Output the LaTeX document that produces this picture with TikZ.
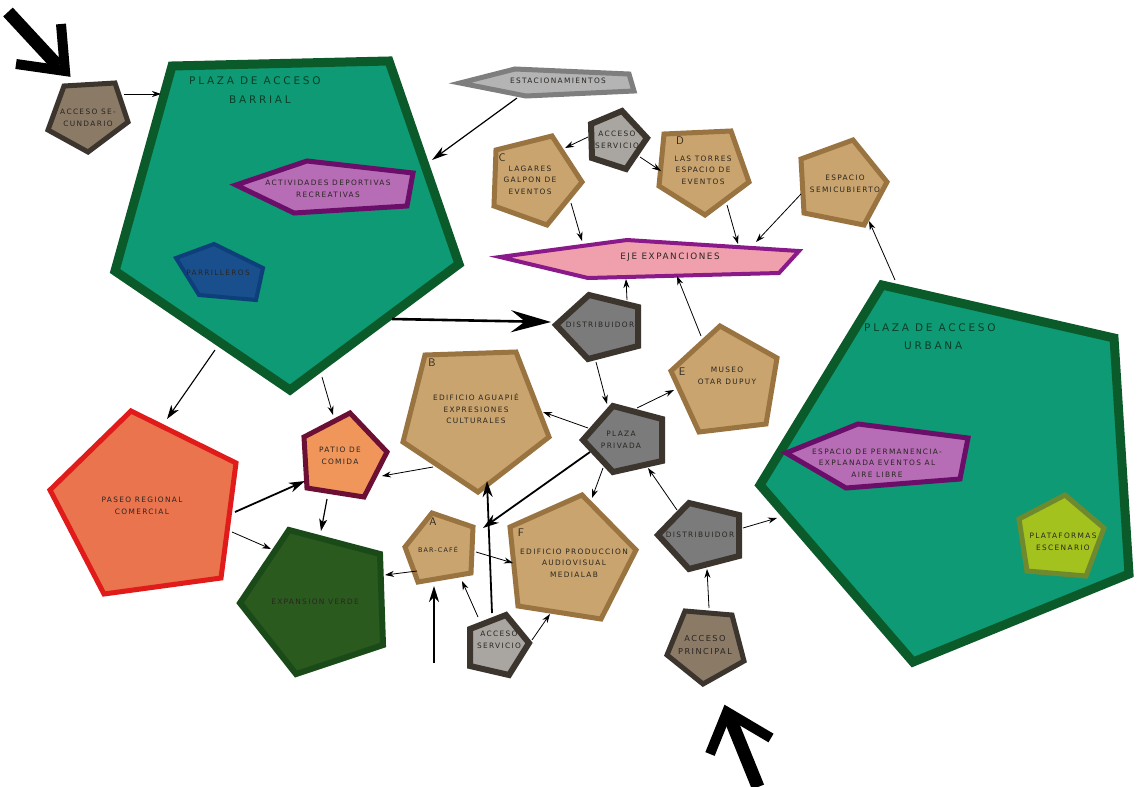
\documentclass[tikz,border=0pt]{standalone}
\usepackage{fontspec}
\usetikzlibrary{arrows.meta}
\newfontfamily\labfont{DejaVu Sans}[LetterSpace=18]
\newfontfamily\titfont{DejaVu Sans}[LetterSpace=26]
\definecolor{plazaf}{HTML}{0E9A74}
\definecolor{plazab}{HTML}{0B5A2A}
\definecolor{tanf}{HTML}{C9A46E}
\definecolor{tanb}{HTML}{9A7440}
\definecolor{grayf}{HTML}{7B7B7B}
\definecolor{darkb}{HTML}{3B352E}
\definecolor{lgrayf}{HTML}{A9A5A1}
\definecolor{accf}{HTML}{8B7A66}
\definecolor{pinkf}{HTML}{F0A0AC}
\definecolor{purpb}{HTML}{8A1A8A}
\definecolor{purpf}{HTML}{B66DB6}
\definecolor{purpbb}{HTML}{6A0E6A}
\definecolor{bluef}{HTML}{1A4F8E}
\definecolor{blueb}{HTML}{0D3F7A}
\definecolor{paseof}{HTML}{EA744E}
\definecolor{paseob}{HTML}{E11A1A}
\definecolor{patiof}{HTML}{F0965A}
\definecolor{patiob}{HTML}{6B0F35}
\definecolor{verdef}{HTML}{2A5A1E}
\definecolor{verdeb}{HTML}{1A4A18}
\definecolor{platf}{HTML}{A4C21E}
\definecolor{platb}{HTML}{6F8A2E}
\definecolor{estf}{HTML}{B4B4B4}
\definecolor{estb}{HTML}{7E7E7E}
\definecolor{txt}{HTML}{2A2622}
\definecolor{tittxt}{HTML}{0A3F28}
\tikzset{
  poly/.style={line join=miter},
  plaza/.style={poly,fill=plazaf,draw=plazab,line width=9pt},
  tan/.style={poly,fill=tanf,draw=tanb,line width=5pt},
  dist/.style={poly,fill=grayf,draw=darkb,line width=6pt},
  serv/.style={poly,fill=lgrayf,draw=darkb,line width=6pt},
  acc/.style={poly,fill=accf,draw=darkb,line width=5pt},
  lab/.style={font=\labfont\fontsize{7.4}{11.5}\selectfont,text=txt,align=center,inner sep=0pt},
  letter/.style={font=\fontsize{11}{11}\selectfont\sffamily,text=txt,inner sep=0pt},
  tit/.style={font=\titfont\fontsize{10.5}{15}\selectfont,text=tittxt,align=left,inner sep=0pt},
  thinarr/.style={line width=0.8pt,-{Stealth[length=9pt,width=6pt]}},
  medarr/.style={line width=1.8pt,-{Stealth[length=16pt,width=10pt,inset=5pt]}},
  bigarr/.style={line width=2.6pt,-{Stealth[length=40pt,width=22pt,inset=14pt]}},
  fatline/.style={line width=13pt,line cap=butt},
  headline/.style={line width=10pt,line join=miter},
}
\begin{document}
\begin{tikzpicture}[x=1pt,y=-1pt]
\path[use as bounding box,fill=white] (0,0) rectangle (1138,787);

% ---------- big arrows (entrances)
\draw[fatline] (8,12) -- (58,66);
\draw[headline] (61,24) -- (65,71) -- (16,64);
\draw[fatline] (758,787) -- (730,718);
\draw[headline] (710,754) -- (727,712) -- (771,738);

% ---------- plaza de acceso barrial
\draw[plaza] (172,66) -- (389,61) -- (459,264) -- (290,390) -- (115,271) -- cycle;
\node[tit,anchor=west] (tb1) at (189,81) {PLAZA DE ACCESO};
\node[tit,anchor=west] (tb2) at (229,100) {BARRIAL};
\draw[poly,fill=purpf,draw=purpbb,line width=5pt] (236,185) -- (307,161) -- (413,173) -- (407,206) -- (294,213) -- cycle;
\node[lab] (act) at (328,189) {ACTIVIDADES DEPORTIVAS\\RECREATIVAS};
\draw[poly,fill=bluef,draw=blueb,line width=4pt] (176,258) -- (214,244) -- (263,268) -- (256,300) -- (199,295) -- cycle;
\node[lab] (parr) at (218,273) {PARRILLEROS};

% ---------- acceso secundario
\draw[acc] (64,86) -- (115,83) -- (128,122) -- (88,152) -- (48,130) -- cycle;
\node[lab] (asec) at (88,118) {ACCESO SE-\\CUNDARIO};

% ---------- estacionamientos
\draw[poly,fill=estf,draw=estb,line width=5pt] (460,83) -- (515,69) -- (629,74) -- (634,91) -- (526,96) -- cycle;
\node[lab] (est) at (558,81) {ESTACIONAMIENTOS};

% ---------- acceso servicio (top)
\draw[serv] (591,124) -- (622,111) -- (647,138) -- (626,169) -- (592,158) -- cycle;
\node[lab] (as1) at (617,140) {ACCESO\\SERVICIO};

% ---------- C
\draw[tan] (496,150) -- (552,136) -- (582,182) -- (547,225) -- (494,206) -- cycle;
\node[letter] (lC) at (502,158) {C};
\node[lab] (tC) at (530,180) {LAGARES\\GALPON DE\\EVENTOS};

% ---------- D
\draw[tan] (664,134) -- (731,131) -- (749,182) -- (705,215) -- (659,186) -- cycle;
\node[letter] (lD) at (680,141) {D};
\node[lab] (tD) at (703,170) {LAS TORRES\\ESPACIO DE\\EVENTOS};

% ---------- espacio semicubierto
\draw[tan] (801,159) -- (853,140) -- (887,182) -- (864,225) -- (804,213) -- cycle;
\node[lab] (tsemi) at (845,184) {ESPACIO\\SEMICUBIERTO};

% ---------- eje expanciones
\draw[poly,fill=pinkf,draw=purpb,line width=4pt] (500,257) -- (627,240) -- (799,251) -- (779,273) -- (588,278) -- cycle;
\node[lab,font=\labfont\fontsize{8.8}{11}\selectfont] (eje) at (670,257) {EJE EXPANCIONES};

% ---------- distribuidor (upper)
\draw[dist] (556,325) -- (589,295) -- (638,307) -- (638,346) -- (588,359) -- cycle;
\node[lab] (dist1) at (600,325) {DISTRIBUIDOR};

% ---------- museo E
\draw[tan] (671,371) -- (720,326) -- (777,358) -- (766,424) -- (699,432) -- cycle;
\node[letter] (lE) at (682,372) {E};
\node[lab] (tE) at (727,376) {MUSEO\\OTAR DUPUY};

% ---------- B
\draw[tan] (425,355) -- (516,352) -- (549,437) -- (478,492) -- (403,442) -- cycle;
\node[letter] (lB) at (432,363) {B};
\node[lab] (tB) at (476,409) {EDIFICIO AGUAPIÉ\\EXPRESIONES\\CULTURALES};

% ---------- plaza privada
\draw[dist] (583,440) -- (613,406) -- (662,419) -- (662,461) -- (613,472) -- cycle;
\node[lab] (pp) at (621,440) {PLAZA\\PRIVADA};

% ---------- paseo regional comercial
\draw[poly,fill=paseof,draw=paseob,line width=5pt] (131,411) -- (236,463) -- (221,578) -- (104,594) -- (50,490) -- cycle;
\node[lab] (paseo) at (142,506) {PASEO REGIONAL\\COMERCIAL};

% ---------- patio de comida
\draw[poly,fill=patiof,draw=patiob,line width=5pt] (304,437) -- (350,413) -- (387,452) -- (364,497) -- (307,488) -- cycle;
\node[lab] (patio) at (340,456) {PATIO DE\\COMIDA};

% ---------- expansion verde
\draw[poly,fill=verdef,draw=verdeb,line width=6pt] (289,530) -- (380,554) -- (383,645) -- (296,674) -- (240,603) -- cycle;
\node[lab] (verde) at (315,602) {EXPANSION VERDE};

% ---------- A bar-cafe
\draw[tan] (405,547) -- (432,513) -- (473,527) -- (471,573) -- (418,582) -- cycle;
\node[letter] (lA) at (433,522) {A};
\node[lab,font=\labfont\fontsize{6.4}{10}\selectfont] (tA) at (438,550) {BAR-CAFÉ};

% ---------- F
\draw[tan] (510,527) -- (582,495) -- (636,550) -- (601,619) -- (518,606) -- cycle;
\node[letter] (lF) at (521,533) {F};
\node[lab] (tF) at (574,563) {EDIFICIO PRODUCCION\\AUDIOVISUAL\\MEDIALAB};

% ---------- acceso servicio (lower)
\draw[serv] (470,629) -- (506,615) -- (529,643) -- (509,675) -- (470,666) -- cycle;
\node[lab] (as2) at (499,640) {ACCESO\\SERVICIO};

% ---------- distribuidor (lower)
\draw[dist] (658,535) -- (689,503) -- (739,515) -- (739,556) -- (689,569) -- cycle;
\node[lab] (dist2) at (700,535) {DISTRIBUIDOR};

% ---------- acceso principal
\draw[acc] (685,611) -- (732,615) -- (744,661) -- (703,684) -- (667,655) -- cycle;
\node[lab,font=\labfont\fontsize{8.2}{13.5}\selectfont] (apr) at (705,645) {ACCESO\\PRINCIPAL};

% ---------- plaza de acceso urbana
\draw[plaza] (882,285) -- (1114,338) -- (1129,574) -- (913,662) -- (760,485) -- cycle;
\node[tit,anchor=west] (tu1) at (864,328) {PLAZA DE ACCESO};
\node[tit,anchor=west] (tu2) at (904,346) {URBANA};
\draw[poly,fill=purpf,draw=purpbb,line width=5pt] (786,453) -- (858,424) -- (968,438) -- (960,479) -- (846,488) -- cycle;
\node[lab] (perm) at (877,463) {ESPACIO DE PERMANENCIA-\\EXPLANADA EVENTOS AL\\AIRE LIBRE};
\draw[poly,fill=platf,draw=platb,line width=5pt] (1019,519) -- (1065,495) -- (1104,528) -- (1086,576) -- (1027,571) -- cycle;
\node[lab] (plat) at (1063,542) {PLATAFORMAS\\ESCENARIO};

% ---------- connectors
\draw[thinarr] (124,94) -- (161,94);
\draw[line width=1.2pt,-{Stealth[length=16pt,width=9pt,inset=5pt]}] (517,98) -- (432,160);
\draw[thinarr] (588,137) -- (565,148);
\draw[thinarr] (640,157) -- (661,171);
\draw[thinarr] (571,203) -- (582,241);
\draw[thinarr] (727,205) -- (738,244);
\draw[thinarr] (801,194) -- (756,242);
\draw[thinarr] (895,280) -- (869,221);
\draw[bigarr] (392,319) -- (551,322);
\draw[thinarr] (627,300) -- (626,279);
\draw[thinarr] (701,336) -- (677,276);
\draw[thinarr] (596,362) -- (607,404);
\draw[thinarr] (588,428) -- (543,412);
\draw[thinarr] (637,408) -- (674,390);
\draw[thinarr] (603,468) -- (592,498);
\draw[medarr] (590,452) -- (483,528);
\draw[thinarr] (677,510) -- (648,468);
\draw[thinarr] (743,528) -- (777,518);
\draw[thinarr] (709,608) -- (707,569);
\draw[line width=1.1pt,-{Stealth[length=14pt,width=9pt,inset=4pt]}] (215,350) -- (167,419);
\draw[thinarr] (322,377) -- (333,415);
\draw[medarr] (235,512) -- (305,481);
\draw[thinarr] (232,532) -- (271,549);
\draw[line width=1.2pt,-{Stealth[length=12pt,width=8pt,inset=3pt]}] (327,499) -- (321,531);
\draw[thinarr] (433,467) -- (382,476);
\draw[thinarr] (417,571) -- (385,575);
\draw[thinarr] (476,552) -- (513,563);
\draw[medarr] (434,663) -- (434,586);
\draw[medarr] (492,613) -- (487,481);
\draw[thinarr] (478,617) -- (462,581);
\draw[thinarr] (532,640) -- (550,614);
\end{tikzpicture}
\end{document}
